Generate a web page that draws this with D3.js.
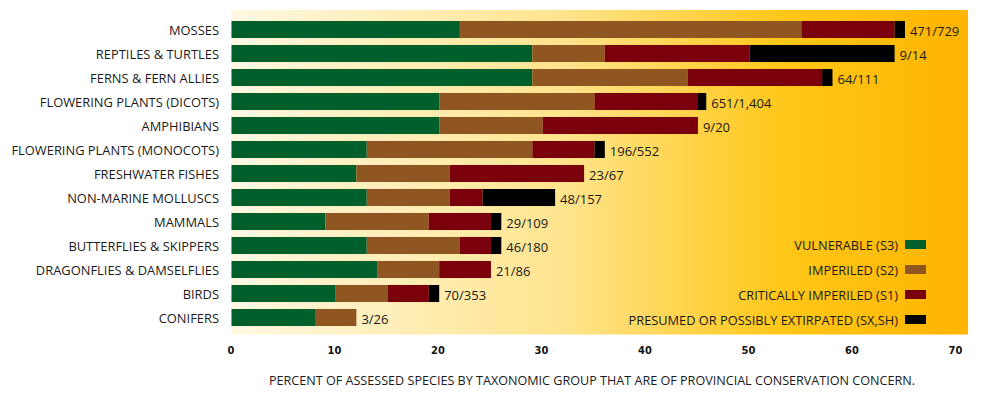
<!DOCTYPE html>
<html>
<head>
<meta charset="utf-8">
<script src="https://cdn.jsdelivr.net/npm/d3@7"></script>
<style>
body{margin:0;background:#fff;}
</style>
</head>
<body>
<div class="box"></div>
<script>
// data
const groups=['MOSSES','REPTILES & TURTLES','FERNS & FERN ALLIES','FLOWERING PLANTS (DICOTS)','AMPHIBIANS','FLOWERING PLANTS (MONOCOTS)','FRESHWATER FISHES','NON-MARINE MOLLUSCS','MAMMALS','BUTTERFLIES & SKIPPERS','DRAGONFLIES & DAMSELFLIES','BIRDS','CONIFERS'];
const vulnerable=[22,29,29,20,20,13,12,13,9,13,14,10,8];
const imperiled=[33,7,15,15,10,16,9,8,10,9,6,5,4];
const critical=[9,14,13,10,15,6,13,3.2,6,3,5,4,0];
const extirpated=[1,14,1,0.8,0,1,0,7,1,1,0,1,0];
const counts=['471/729','9/14','64/111','651/1,404','9/20','196/552','23/67','48/157','29/109','46/180','21/86','70/353','3/26'];
const legendLabels=['VULNERABLE (S3)','IMPERILED (S2)','CRITICALLY IMPERILED (S1)','PRESUMED OR POSSIBLY EXTIRPATED (SX,SH)'];
const ticks=[0,10,20,30,40,50,60,70];

const keys=['s3','s2','s1','sx'];
const colors=['#005f2a','#8f5622','#7a000c','#000000'];

const rows=groups.map((g,i)=>({nom:g,s3:vulnerable[i],s2:imperiled[i],s1:critical[i],sx:extirpated[i],n:counts[i]}));

const W=985,H=393;
const svg=d3.select('.box').append('svg').attr('width',W).attr('height',H).style('background','white');

const x=d3.scaleLinear().domain([0,70]).range([232.2,956.7]);
const y=d3.scaleBand().domain(groups).range([21-3.5,21-3.5+24*13]).paddingInner(0.29).paddingOuter(0.145);

// background gradient
const grad=svg.append('defs').append('linearGradient').attr('id','bg').attr('x1','0%').attr('x2','100%');
grad.append('stop').attr('offset','0%').attr('stop-color','#fff8e2');
grad.append('stop').attr('offset','45%').attr('stop-color','#ffe48e');
grad.append('stop').attr('offset','75%').attr('stop-color','#ffc718');
grad.append('stop').attr('offset','100%').attr('stop-color','#ffb400');
svg.append('rect').attr('x',231).attr('y',10).attr('width',737).attr('height',324.5).attr('fill','url(#bg)');

const stack=d3.stack().keys(keys)(rows);
const g=svg.append('g');
g.selectAll('g.layer').data(stack).enter().append('g')
  .attr('fill',(d,i)=>colors[i])
  .selectAll('rect').data(d=>d.filter(v=>v[1]-v[0]>0)).enter().append('rect')
  .attr('x',d=>d[0]==0?231.5:x(d[0]))
  .attr('y',d=>y(d.data.nom))
  .attr('width',d=>x(d[1])-(d[0]==0?231.5:x(d[0])))
  .attr('height',y.bandwidth());

// category labels
const font='"Open Sans", sans-serif';
svg.append('g').selectAll('text').data(groups).enter().append('text')
  .attr('x',219).attr('y',d=>y(d)+y.bandwidth()/2)
  .attr('text-anchor','end').attr('dominant-baseline','central')
  .style('font-family',font).style('font-size','12.9px').attr('fill','#1a1a1a')
  .text(d=>d);

// totals at bar ends
g.selectAll('text.n').data(rows).enter().append('text')
  .attr('class','n')
  .attr('x',d=>x(d.s3+d.s2+d.s1+d.sx)+5)
  .attr('y',d=>y(d.nom)+y.bandwidth()/2+1)
  .attr('dominant-baseline','central')
  .style('font-family',font).style('font-size','13px').attr('fill','#1a1a1a')
  .text(d=>d.n);

// x axis
const axeX=d3.axisBottom(x).tickValues(ticks).tickSize(0).tickPadding(0);
const gX=svg.append('g').attr('transform','translate(-1.7,346)').call(axeX);
gX.select('.domain').remove();
gX.selectAll('text').style('font-family','"DejaVu Sans Condensed", "DejaVu Sans", sans-serif')
  .style('font-weight','bold').style('font-size','11px').attr('fill','#111');

svg.append('text').attr('x',592).attr('y',385).attr('text-anchor','middle')
  .style('font-family',font).style('font-size','12.6px').attr('fill','#1a1a1a')
  .text('PERCENT OF ASSESSED SPECIES BY TAXONOMIC GROUP THAT ARE OF PROVINCIAL CONSERVATION CONCERN.');

// legend
const leg=svg.append('g').selectAll('g').data(legendLabels).enter().append('g')
  .attr('transform',(d,i)=>`translate(905,${240+i*25})`);
leg.append('rect').attr('width',21).attr('height',9).attr('fill',(d,i)=>colors[i]);
leg.append('text').attr('x',-7).attr('y',5).attr('text-anchor','end').attr('dominant-baseline','central')
  .style('font-family',font).style('font-size','12.8px').attr('fill','#1a1a1a')
  .text(d=>d);
</script>
</body>
</html>
